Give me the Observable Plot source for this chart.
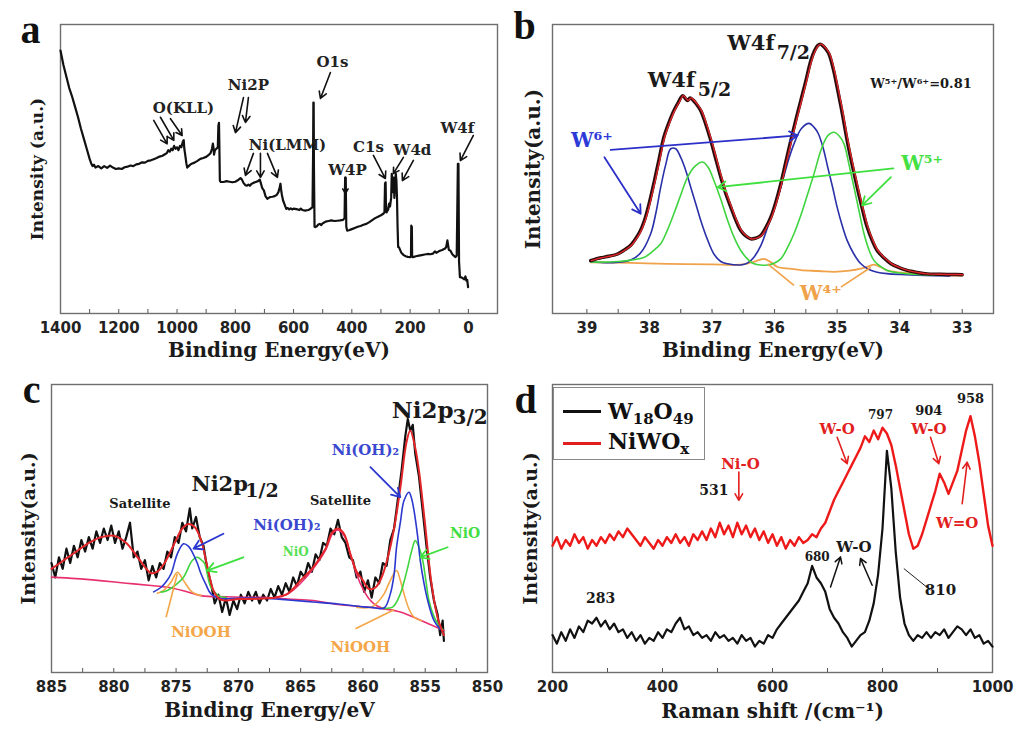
<!DOCTYPE html>
<html>
<head>
<meta charset="utf-8">
<script src="https://cdn.jsdelivr.net/npm/d3@7"></script>
<script src="https://cdn.jsdelivr.net/npm/@observablehq/plot@0.6"></script>
<style>
  body { margin: 0; background: #fff; }
  #fig { position: relative; width: 1016px; height: 733px; background: #fff; overflow: hidden; }
  #fig svg { position: absolute; }
  .legend { position: absolute; left: 553px; top: 387px; width: 150px; height: 71px; border: 1px solid #888; background: #fff;
            font-family: "DejaVu Serif"; font-weight: bold; font-size: 22px; color: #111; }
  .legend .sw { position: absolute; left: 9px; width: 38px; height: 3px; }
  .legend .lb { position: absolute; left: 54px; line-height: 1; }
  .legend sub { font-size: 15px; vertical-align: -5px; }
</style>
</head>
<body>
<div id="fig"></div>
<script>
// ---------- Panel a : XPS survey ----------
const surveyA = [[1400,91],[1390,86],[1380,82],[1370,78],[1360,75],[1350,71.5],[1340,68],[1330,64],[1320,60.5],[1310,57],[1300,53.5],[1295,52],[1290,51],[1285,51.5],[1280,50.5],[1270,51],[1260,50.2],[1250,51],[1240,50.4],[1230,51.2],[1220,50.5],[1210,50],[1200,50.2],[1190,50],[1180,50.6],[1170,50.8],[1160,51.2],[1150,51],[1140,51.6],[1130,51.8],[1120,52.3],[1110,52.2],[1100,52.8],[1090,53],[1080,53.4],[1070,53.8],[1060,54.3],[1050,54.6],[1040,55.2],[1035,55.5],[1030,56.5],[1025,56],[1020,57],[1015,56.5],[1010,58],[1005,57],[1000,57.5],[995,56.5],[990,58],[985,57.5],[980,59.5],[977,60],[975,57],[972,55],[968,52],[965,50.5],[960,51],[955,51.5],[950,51.8],[940,52.2],[930,52.8],[920,53.5],[910,53.8],[900,54.2],[890,55],[885,55.5],[880,57],[877,58.8],[875,57.5],[873,55],[870,56.5],[865,57],[860,57.5],[858,65],[856,66],[855,60],[853,46],[850,45.5],[840,45.5],[830,45.8],[820,45.6],[810,45.4],[800,45.6],[790,46.2],[782,46.8],[778,46.5],[772,45.2],[765,44.4],[760,44.2],[755,44.6],[750,44.2],[745,44.8],[738,45.2],[730,45.5],[722,45.8],[716,46.3],[712,45],[708,43.5],[702,42.6],[696,40.5],[690,39.7],[685,40],[680,40.3],[672,40.4],[665,40.6],[658,41],[652,42],[648,43.5],[645,44.9],[643,43],[640,41],[636,39.1],[630,37.5],[625,36.2],[620,36.5],[615,36],[610,36.4],[605,36],[600,36.3],[590,36.1],[580,35.8],[575,36.3],[570,35.8],[560,35.6],[550,35.8],[545,36],[540,36.4],[535,36.8],[533,55],[532,73],[531,73],[530,50],[528,30],[525,29.9],[520,30.2],[515,30.8],[510,31],[505,30.6],[500,31.2],[495,31.5],[490,31.8],[480,32],[470,32.2],[460,32],[450,32.1],[440,32.2],[430,32.4],[425,33],[423,47],[421,47],[419,30],[416,28.7],[410,28.8],[400,29.2],[390,29.6],[380,30],[370,30.3],[360,30.7],[350,31],[340,31.6],[330,32.3],[320,33],[310,33.5],[300,34],[292,34.5],[288,35],[286,45],[284,45.4],[283,38],[281,35],[278,35.5],[275,36],[272,38],[269,37],[265,40],[263,48.3],[261,46],[259,42],[256,47],[254,40],[252,45],[249,48.3],[247,46],[245,40],[243,30],[241,23],[238,22.9],[230,21],[222,20.2],[215,19.8],[208,19.6],[200,19.5],[197,19.8],[196,30.4],[194,30],[193,19.6],[190,19.5],[180,19.8],[170,20],[160,20.2],[150,20.4],[140,20.6],[130,20.5],[122,20.7],[115,21.5],[110,21],[100,21.6],[90,22],[80,22.5],[76,23],[72,25.3],[70,24],[67,22],[62,21.8],[55,20.5],[50,20],[44,19.5],[40,20],[36,51.8],[34,51.8],[32,18],[29,12.6],[24,12.5],[19,12.2],[14,11.8],[10,12.8],[7,11.4],[4,11.6],[1,9.1]];
const aLabels = [
  {t:"O(KLL)", x:978, y:70.9}, {t:"Ni2P", x:755, y:78.9}, {t:"Ni(LMM)", x:621, y:58.1},
  {t:"O1s", x:466.7, y:86.9}, {t:"W4P", x:415, y:49.5}, {t:"C1s", x:343, y:57.4},
  {t:"W4d", x:192, y:56.4}, {t:"W4f", x:38, y:64}
];
const aArrows = [[1080,66.8,1034,58.7],[1057,67.9,1011,59.9],[1022.6,67.4,982.4,61.6],[772,74.7,799.5,62.6],[755,74.7,765.2,66.1],[737.8,55.4,765.2,47.8],[713.7,55.4,713.7,47.1],[689.7,55.4,655.4,47.1],[473.5,83.4,507.8,74.4],[422,47.1,422,41.5],[326,54.7,284.8,46.7],[223,54,257.4,48.4],[188.7,53,226.5,46],[-17.2,61.6,27.4,52.9]];
const aTicks = [1400,1200,1000,800,600,400,200,0];
const aMinor = [1400,1300,1200,1100,1000,900,800,700,600,500,400,300,200,100,0];

// ---------- Panel b : W4f ----------
const bTotal = [[38.94,18.3],[38.85,18.9],[38.78,19.3],[38.65,19.8],[38.51,20.6],[38.4,22],[38.3,23.6],[38.24,25.3],[38.16,28],[38.08,32.2],[38.0,38.5],[37.92,46],[37.85,53],[37.77,61],[37.69,66],[37.61,70.2],[37.54,73],[37.47,75.4],[37.43,74.5],[37.39,73.7],[37.35,74.6],[37.31,74],[37.25,72.5],[37.18,70.2],[37.1,65.5],[37.02,59.9],[36.94,53.5],[36.86,47.2],[36.78,41.5],[36.7,36.8],[36.62,32.3],[36.54,28.7],[36.46,26.8],[36.38,25.8],[36.3,26.1],[36.22,27],[36.14,29.7],[36.06,33.3],[35.98,38.5],[35.9,44.9],[35.82,52.5],[35.74,59.9],[35.66,67],[35.58,73.7],[35.5,80.5],[35.42,87.5],[35.36,91],[35.31,92.7],[35.27,93.2],[35.23,92.7],[35.18,91.5],[35.13,89.8],[35.06,84.5],[35.0,78.3],[34.92,69.5],[34.84,59.9],[34.76,51.5],[34.68,43.7],[34.6,36.5],[34.52,29.9],[34.44,25.3],[34.36,21.8],[34.25,19.2],[34.14,17.2],[34.0,15.8],[33.88,14.9],[33.72,14.2],[33.56,13.7],[33.4,13.6],[33.24,13.5],[33.1,13.5],[33.0,13.4]];
const bW6 = [[38.94,17.9],[38.6,17.6],[38.3,18.5],[38.14,21],[37.98,27.6],[37.9,34.5],[37.82,43.7],[37.74,51.5],[37.66,57],[37.58,57],[37.5,54],[37.42,49.5],[37.34,43.7],[37.26,38],[37.18,32.2],[37.08,26],[36.97,20.6],[36.86,18],[36.75,17.2],[36.54,16.8],[36.43,17.5],[36.33,19.5],[36.22,23.5],[36.11,29.9],[36.0,36.8],[35.9,43.7],[35.8,51.5],[35.69,58.7],[35.57,64],[35.45,65.8],[35.37,64.5],[35.3,62.2],[35.22,57],[35.15,50.6],[35.07,43.5],[35.0,36.8],[34.92,30.5],[34.84,25.3],[34.73,20.5],[34.62,17.2],[34.5,15.3],[34.36,14.3],[34.2,13.8],[33.98,13.5],[33.6,13.2],[33.2,13.0]];
const bW5 = [[38.94,17.8],[38.5,18],[38.08,19.5],[37.95,21.5],[37.82,24.1],[37.72,28.5],[37.61,34.5],[37.5,41],[37.39,47.2],[37.27,51],[37.15,52.4],[37.06,50.5],[36.97,46],[36.86,39.5],[36.75,32.2],[36.65,26.5],[36.54,21.8],[36.43,18.8],[36.33,17.2],[36.11,16.8],[36.0,17.5],[35.9,18.9],[35.8,22.5],[35.69,27.6],[35.58,34],[35.47,41.4],[35.36,49],[35.26,56.4],[35.15,61.5],[35.05,62.7],[34.97,61.5],[34.89,58.7],[34.81,51.5],[34.73,43.7],[34.65,35.5],[34.57,27.6],[34.49,22],[34.41,18.3],[34.3,16.2],[34.2,14.9],[34.0,14],[33.72,13.5],[33.3,13.2]];
const bW4 = [[38.94,17.7],[38.3,17.5],[37.71,17.2],[37.0,17.0],[36.65,16.8],[36.45,17.2],[36.33,17.9],[36.17,18.9],[36.05,17.6],[35.95,16.1],[35.75,15.5],[35.58,15.0],[35.3,14.7],[35.05,14.4],[34.8,14.8],[34.62,15.5],[34.5,16.3],[34.41,16.9],[34.3,16.0],[34.2,14.9],[34.0,14.2],[33.72,13.8],[33.4,13.4],[33.0,13.1]];
const bLabels = [{t:"W4f", x:36.38, y:93.4, s:21},{t:"7/2", x:35.70, y:90, s:19},{t:"W4f", x:37.65, y:80.6, s:21},{t:"5/2", x:36.96, y:77.2, s:19},{t:"W⁵⁺/W⁶⁺=0.81", x:33.66, y:79.6, s:13}];
const bIonLabels = [{t:"W⁶⁺", x:38.92, y:59.9, c:"#2c3ad8"},{t:"W⁵⁺", x:33.64, y:51.8, c:"#44e044"},{t:"W⁴⁺", x:35.26, y:6.9, c:"#f0a24a"}];
const bArrowsBlue = [[38.62,56.6,35.63,61.6],[38.72,54.1,38.14,34.5]];
const bArrowsGreen = [[34.10,50.2,36.91,43.7],[34.14,47.2,34.60,37.4]];
const bArrowsOrange = [[35.69,9.7,36.11,17.2],[34.94,9.1,34.46,16]];
const bTicks = [39,38,37,36,35,34,33];
const bMinor = [39,38.5,38,37.5,37,36.5,36,35.5,35,34.5,34,33.5,33];

// ---------- Panel c : Ni2p ----------
const cData = [[885.0,38],[884.7,33],[884.4,40],[884.1,36],[883.8,43],[883.5,38],[883.2,44],[882.9,40],[882.6,46],[882.3,42],[882.0,47],[881.7,43],[881.4,49],[881.1,45],[880.8,50],[880.5,46],[880.2,51],[879.9,45],[879.6,49],[879.3,43],[879.0,47],[878.7,52],[878.4,40],[878.1,42],[877.8,36],[877.5,39],[877.2,32],[876.9,37],[876.6,33],[876.3,38],[876.0,36],[875.7,42],[875.4,40],[875.1,47],[874.8,45],[874.5,52],[874.2,49],[873.9,57],[873.7,50],[873.4,54],[873.1,47],[872.8,44],[872.5,36],[872.2,31],[871.9,24],[871.6,27],[871.3,21],[871.0,26],[870.7,20],[870.4,25],[870.1,22],[869.8,27],[869.5,24],[869.2,28],[868.9,25],[868.6,28],[868.3,24],[868.0,27],[867.7,25],[867.4,29],[867.1,26],[866.8,30],[866.5,27],[866.2,31],[865.9,28],[865.6,33],[865.3,30],[865.0,35],[864.7,33],[864.4,38],[864.1,35],[863.8,41],[863.5,39],[863.2,45],[862.9,44],[862.6,50],[862.3,48],[862.0,53],[861.7,47],[861.4,45],[861.1,40],[860.8,39],[860.5,33],[860.2,35],[859.9,28],[859.6,32],[859.3,26],[859.0,33],[858.7,31],[858.4,38],[858.1,37],[857.8,46],[857.5,50],[857.2,60],[856.9,70],[856.6,82],[856.4,88],[856.2,84],[856.0,86],[855.8,76],[855.5,68],[855.2,56],[854.9,44],[854.6,33],[854.3,25],[854.0,20],[853.8,13],[853.6,18],[853.5,11]];
const cFit = [[885,36],[884,39],[883,42],[882,45],[881,47],[880,47.5],[879,45],[878,39.5],[877,34.5],[876.5,35],[876,37.5],[875.5,41.5],[875,46],[874.5,50],[874,51.6],[873.5,50.5],[873,46],[872.5,37],[872,28.5],[871.5,25.5],[871,25],[870,25.5],[869,25.5],[868,25.7],[867,26],[866,27.5],[865,32],[864,36.5],[863,43],[862.5,48.5],[862,50],[861.5,48],[861,41],[860.5,35],[860,32],[859.5,29],[859,29.5],[858.5,33],[858,40],[857.5,50],[857,64],[856.5,80],[856.2,84],[855.8,78],[855.5,70],[855,51],[854.5,31],[854,19],[853.5,13]];
const cBackground = [[885,33.1],[883,32.6],[881.1,31.9],[879,31],[877,30.2],[875.7,29.6],[874.5,28.5],[873,26.7],[871,26.3],[869,26.1],[867.7,26],[866,25.5],[864,25],[862.3,23.8],[860,22.8],[858.3,22.1],[857,21],[855.6,18.6],[854.5,16.5],[853.5,14.6]];
const cSatellite = [[867,26.2],[866,27.3],[865,31],[864,36],[863,42.5],[862.4,48.5],[862,49.5],[861.5,47.5],[861,41],[860.5,34],[860,29],[859.5,25.5],[859,23.5],[858.3,22.1]];
const cNiOH2 = [[876.8,28],[876.2,29.6],[875.8,31.5],[875.4,34.3],[874.9,41.2],[874.4,44.7],[874.0,43.8],[873.7,41.8],[873.3,38],[873.0,34.3],[872.6,30.5],[872.2,27.3],[871.4,25.7],[870,25.8],[868,25.8],[866,25.2],[864,24.5],[862,23.8],[860,22.8],[859.3,22.6],[858.3,22.4],[857.8,27.3],[857.5,34],[857.3,43.5],[857,52],[856.7,59.7],[856.3,62.6],[856.1,60.5],[855.9,56.3],[855.6,47],[855.4,38.9],[855.1,31],[854.8,25],[854.3,18.1],[853.8,15]];
const cNiO12 = [[876.2,27.9],[875.7,28.5],[875.0,30.5],[874.4,33.1],[873.7,38.9],[873.3,40],[872.9,38.8],[872.7,37.7],[872.2,29.6],[871.6,26.7],[871,26]];
const cNiO32 = [[858.5,22.3],[857.6,22.8],[857.0,27.3],[856.7,31.5],[856.4,36.6],[856.1,42],[855.8,45.8],[855.5,43.5],[855.2,38.9],[854.95,32],[854.7,25],[854.35,20],[854.0,17],[853.6,15]];
const cNiOOH12 = [[876.5,27.5],[876.0,28.5],[875.4,31.4],[874.9,34.8],[874.4,31.9],[873.7,27.9],[873.0,26.7]];
const cNiOOH32 = [[860.5,22.6],[859.3,22.7],[858.8,24.5],[858.3,27.3],[857.8,32],[857.3,35.4],[857.0,32],[856.7,27.3],[856.3,22],[855.9,19.2],[855.3,18]];
const cBigLabels = [{t:"Ni2p", x:855.2, y:91, s:23},{t:"3/2", x:851.4, y:88.6, s:20},{t:"Ni2p", x:871.5, y:65.5, s:21},{t:"1/2", x:868.1, y:63.2, s:19}];
const cSmallLabels = [{t:"Satellite", x:877.9, y:58.6},{t:"Satellite", x:861.8, y:59.7}];
const cColorLabels = [{t:"Ni(OH)₂", x:859.8, y:77.1, c:"#3a48d0", s:15},{t:"Ni(OH)₂", x:866.1, y:51, c:"#3a48d0", s:15},{t:"NiO", x:865.4, y:41.8, c:"#55e055", s:12},{t:"NiO", x:851.8, y:48.2, c:"#44dd44", s:14},{t:"NiOOH", x:873, y:14, c:"#f4a648", s:15},{t:"NiOOH", x:860.2, y:8.8, c:"#f4a648", s:15}];
const cArrowsBlue = [[859.4,71.3,857.0,60.9],[871.2,48.2,873.6,43]];
const cArrowsGreen = [[869.6,40,872.5,35.4],[853.2,43.5,855.4,40]];
const cLinesOrange = [[875.8,19.2,874.9,34.3],[860.6,15.2,857.5,21.8]];
const cTicks = [885,880,875,870,865,860,855,850];
const cMinor = [885,882.5,880,877.5,875,872.5,870,867.5,865,862.5,860,857.5,855,852.5,850];

// ---------- Panel d : Raman ----------
const dNiWOx = [[200,44],[208,47],[216,43],[224,46],[232,44],[240,48],[248,45],[256,47],[264,43],[272,46],[280,44],[288,47],[296,45],[304,48],[312,46],[320,49],[328,47],[336,50],[344,48],[352,46],[360,44],[368,47],[376,45],[384,43],[392,46],[400,44],[408,47],[416,45],[424,48],[432,45],[440,47],[448,44],[456,48],[464,46],[472,49],[480,46],[488,50],[496,47],[504,52],[512,48],[520,51],[528,47],[536,52],[544,48],[552,51],[560,47],[568,50],[576,46],[584,49],[592,45],[600,48],[608,44],[616,47],[624,43],[632,46],[640,44],[648,47],[656,45],[664,46],[672,48],[680,47],[688,50],[696,52],[704,56],[712,60],[720,63],[728,66],[736,69],[744,72],[752,75],[760,78],[768,82],[776,80],[784,84],[792,81],[800,85],[808,83],[816,79],[824,72],[832,64],[840,56],[848,48],[856,43],[864,44],[872,48],[880,53],[888,58],[896,63],[904,69],[912,66],[920,62],[928,66],[936,70],[944,77],[952,84],[960,89],[968,82],[976,73],[984,62],[992,51],[1000,44]];
const dW18O49 = [[200,13],[208,10],[216,14],[224,11],[232,15],[240,12],[248,16],[256,14],[264,18],[272,17],[280,19],[288,16],[296,18],[304,15],[312,17],[320,14],[328,15],[336,12],[344,14],[352,11],[360,13],[368,10],[376,12],[384,11],[392,14],[400,12],[408,15],[416,14],[424,17],[432,19],[440,15],[448,16],[456,13],[464,14],[472,12],[480,13],[488,11],[496,14],[504,12],[512,13],[520,11],[528,12],[536,10],[544,13],[552,11],[560,12],[568,9],[576,11],[584,10],[592,13],[600,12],[608,15],[616,17],[624,19],[632,21],[640,23],[648,25],[656,28],[664,31],[672,37],[680,33],[688,31],[696,28],[704,22],[712,19],[720,17],[728,14],[736,12],[744,9],[752,11],[760,13],[768,14],[776,18],[784,24],[792,34],[800,50],[808,77],[816,64],[824,42],[832,26],[840,17],[848,13],[856,11],[864,13],[872,12],[880,14],[888,12],[896,14],[904,13],[912,15],[920,12],[928,14],[936,16],[944,15],[952,13],[960,15],[968,12],[976,13],[984,10],[992,11],[1000,9]];
const dBlackLabels = [{t:"797", x:796.4, y:89.3, s:12},{t:"904", x:884.2, y:91, s:13},{t:"958", x:960, y:95, s:13},{t:"531", x:493.3, y:63.3, s:14},{t:"283", x:287.3, y:25.7, s:14},{t:"680", x:681.2, y:40.1, s:12},{t:"810", x:905.5, y:28.6, s:15},{t:"W-O", x:747.9, y:43.6, s:15}];
const dRedLabels = [{t:"W-O", x:717.6, y:84.6},{t:"W-O", x:884.2, y:84.6},{t:"W=O", x:935.8, y:51.7},{t:"Ni-O", x:541.8, y:72.5}];
const dArrowsRed = [[717.6,81.7,735.8,72.5],[887.3,81.7,902.4,72.5],[944.9,58.6,954,73],[538.8,69.6,538.8,59.8]];
const dArrowsBlack = [[705.5,29.7,723.6,40.1],[781.2,30.3,760,39.6]];
const dLeader = [[887.3,28.6,838.8,36.1]];
const dTicks = [200,400,600,800,1000];
const dMinor = [200,300,400,500,600,700,800,900,1000];

// ---------- helpers ----------
const SERIF = "DejaVu Serif";
const X = d => d[0], Y = d => d[1];
const seg = {x1: d => d[0], y1: d => d[1], x2: d => d[2], y2: d => d[3]};

function frameAndAxes({ticks, minor, xLabel, xLabelDy, yLabel, yLabelDx, yLabelSize, letter, letterDx, letterDy}) {
  return [
    Plot.axisX({ticks, tickSize: 0, tickPadding: 9, tickFormat: d => String(d), label: null}),
    Plot.axisX({ticks: minor, tickSize: -4, tickFormat: () => "", label: null, stroke: "#555"}),
    Plot.frame({stroke: "#6e6e6e", strokeWidth: 1.4}),
    Plot.text([xLabel], {text: d => d, frameAnchor: "bottom", textAnchor: "middle", dy: xLabelDy, fontFamily: SERIF, fontWeight: "bold", fontSize: 20, fill: "#1a1a1a"}),
    Plot.text([yLabel], {text: d => d, frameAnchor: "left", textAnchor: "middle", rotate: -90, dx: yLabelDx, fontFamily: SERIF, fontWeight: "bold", fontSize: yLabelSize, fill: "#1a1a1a"}),
    Plot.text([letter], {text: d => d, frameAnchor: "top-left", textAnchor: "middle", dx: letterDx, dy: letterDy, lineAnchor: "bottom", fontFamily: "Liberation Serif", fontWeight: "bold", fontSize: 40, fill: "#111"})
  ];
}

function place(svg, left, top) {
  svg.style.left = left + "px";
  svg.style.top = top + "px";
  document.getElementById("fig").appendChild(svg);
}

const baseStyle = {background: "transparent", overflow: "visible", fontFamily: "DejaVu Sans", fontSize: "15px", fontWeight: "bold", color: "#222"};

// ---------- a ----------
place(Plot.plot({
  width: 508, height: 366, marginLeft: 60, marginRight: 11, marginTop: 24, marginBottom: 53,
  style: baseStyle,
  x: {domain: [1400, -100]}, y: {domain: [0, 100], axis: null},
  marks: [
    ...frameAndAxes({ticks: aTicks, minor: aMinor, xLabel: "Binding Energy(eV)", xLabelDy: 43, yLabel: "Intensity (a.u.)", yLabelDx: -23, yLabelSize: 17, letter: "a", letterDx: -30, letterDy: 18}),
    Plot.line(surveyA, {x: X, y: Y, stroke: "#111", strokeWidth: 2.2}),
    Plot.arrow(aArrows, {...seg, stroke: "#111", strokeWidth: 1.6, headLength: 7}),
    Plot.text(aLabels, {x: "x", y: "y", text: "t", fontFamily: SERIF, fontWeight: "bold", fontSize: 15, fill: "#222"})
  ]
}), 0, 0);

// ---------- b ----------
place(Plot.plot({
  width: 508, height: 366, marginLeft: 44, marginRight: 23, marginTop: 24, marginBottom: 53,
  style: baseStyle,
  x: {domain: [39.55, 32.5]}, y: {domain: [0, 100], axis: null},
  marks: [
    ...frameAndAxes({ticks: bTicks, minor: bMinor, xLabel: "Binding Energy(eV)", xLabelDy: 43, yLabel: "Intensity(a.u.)", yLabelDx: -19, yLabelSize: 20, letter: "b", letterDx: -28, letterDy: 14}),
    Plot.line(bW4, {x: X, y: Y, stroke: "#f0a24a", strokeWidth: 1.8, curve: "catmull-rom"}),
    Plot.line(bW6, {x: X, y: Y, stroke: "#2a30a8", strokeWidth: 1.6, curve: "catmull-rom"}),
    Plot.line(bW5, {x: X, y: Y, stroke: "#3fd43f", strokeWidth: 1.6, curve: "catmull-rom"}),
    Plot.line(bTotal, {x: X, y: Y, stroke: "#2a0c0c", strokeWidth: 3.4, curve: "catmull-rom"}),
    Plot.line(bTotal, {x: X, y: Y, stroke: "#e0262a", strokeWidth: 1.4, curve: "catmull-rom", dx: 0.8}),
    Plot.arrow(bArrowsBlue, {...seg, stroke: "#2c30c8", strokeWidth: 1.8, headLength: 8}),
    Plot.arrow(bArrowsGreen, {...seg, stroke: "#3ee03e", strokeWidth: 1.8, headLength: 8}),
    Plot.link(bArrowsOrange, {...seg, stroke: "#f0a24a", strokeWidth: 1.6}),
    Plot.text(bLabels, {x: "x", y: "y", text: "t", fontSize: d => d.s, fontFamily: SERIF, fontWeight: "bold", fill: "#1a1a1a"}),
    Plot.text(bIonLabels, {x: "x", y: "y", text: "t", fill: d => d.c, fontFamily: SERIF, fontWeight: "bold", fontSize: 20})
  ]
}), 508, 0);

// ---------- c ----------
place(Plot.plot({
  width: 508, height: 367, marginLeft: 51, marginRight: 21, marginTop: 18, marginBottom: 61,
  style: baseStyle,
  x: {domain: [885, 850]}, y: {domain: [0, 100], axis: null},
  marks: [
    ...frameAndAxes({ticks: cTicks, minor: cMinor, xLabel: "Binding Energy/eV", xLabelDy: 44, yLabel: "Intensity(a.u.)", yLabelDx: -23, yLabelSize: 19, letter: "c", letterDx: -20, letterDy: 18}),
    Plot.line(cData, {x: X, y: Y, stroke: "#111", strokeWidth: 2.2}),
    Plot.line(cBackground, {x: X, y: Y, stroke: "#e83070", strokeWidth: 1.6, curve: "catmull-rom"}),
    Plot.line(cSatellite, {x: X, y: Y, stroke: "#e83070", strokeWidth: 1.6, curve: "catmull-rom"}),
    Plot.line(cNiOOH12, {x: X, y: Y, stroke: "#f4a648", strokeWidth: 1.6, curve: "catmull-rom"}),
    Plot.line(cNiOOH32, {x: X, y: Y, stroke: "#f4a648", strokeWidth: 1.6, curve: "catmull-rom"}),
    Plot.line(cNiO12, {x: X, y: Y, stroke: "#3fd43f", strokeWidth: 1.6, curve: "catmull-rom"}),
    Plot.line(cNiO32, {x: X, y: Y, stroke: "#3fd43f", strokeWidth: 1.6, curve: "catmull-rom"}),
    Plot.line(cNiOH2, {x: X, y: Y, stroke: "#2a38d0", strokeWidth: 1.6, curve: "catmull-rom"}),
    Plot.line(cFit, {x: X, y: Y, stroke: "#e2262a", strokeWidth: 2, curve: "catmull-rom"}),
    Plot.arrow(cArrowsBlue, {...seg, stroke: "#2a38d0", strokeWidth: 1.8, headLength: 8}),
    Plot.arrow(cArrowsGreen, {...seg, stroke: "#3ee03e", strokeWidth: 1.8, headLength: 8}),
    Plot.link(cLinesOrange, {...seg, stroke: "#f4a648", strokeWidth: 1.6}),
    Plot.text(cBigLabels, {x: "x", y: "y", text: "t", fontSize: d => d.s, fontFamily: SERIF, fontWeight: "bold", fill: "#1a1a1a"}),
    Plot.text(cSmallLabels, {x: "x", y: "y", text: "t", fontSize: 13, fontFamily: SERIF, fontWeight: "bold", fill: "#1a1a1a"}),
    Plot.text(cColorLabels, {x: "x", y: "y", text: "t", fill: d => d.c, fontSize: d => d.s, fontFamily: SERIF, fontWeight: "bold"})
  ]
}), 0, 366);

// ---------- d ----------
place(Plot.plot({
  width: 508, height: 367, marginLeft: 44, marginRight: 24, marginTop: 18, marginBottom: 61,
  style: baseStyle,
  x: {domain: [200, 1000]}, y: {domain: [0, 100], axis: null},
  marks: [
    ...frameAndAxes({ticks: dTicks, minor: dMinor, xLabel: "Raman shift /(cm⁻¹)", xLabelDy: 45, yLabel: "Intensity(a.u.)", yLabelDx: -22, yLabelSize: 19, letter: "d", letterDx: -27, letterDy: 28}),
    Plot.line(dW18O49, {x: X, y: Y, stroke: "#111", strokeWidth: 2.2}),
    Plot.line(dNiWOx, {x: X, y: Y, stroke: "#ee1a1a", strokeWidth: 2.4}),
    Plot.arrow(dArrowsRed, {...seg, stroke: "#e21e1e", strokeWidth: 1.6, headLength: 7}),
    Plot.arrow(dArrowsBlack, {...seg, stroke: "#111", strokeWidth: 1.5, headLength: 7}),
    Plot.link(dLeader, {...seg, stroke: "#222", strokeWidth: 1}),
    Plot.text(dBlackLabels, {x: "x", y: "y", text: "t", fontSize: d => d.s, fontFamily: SERIF, fontWeight: "bold", fill: "#1a1a1a"}),
    Plot.text(dRedLabels, {x: "x", y: "y", text: "t", fontSize: 15, fontFamily: SERIF, fontWeight: "bold", fill: "#e21e1e"})
  ]
}), 508, 366);

// legend for d
const legend = document.createElement("div");
legend.className = "legend";
legend.innerHTML =
  '<div class="sw" style="top:22px;background:#111"></div><div class="lb" style="top:12px">W<sub>18</sub>O<sub>49</sub></div>' +
  '<div class="sw" style="top:54px;background:#e21e1e"></div><div class="lb" style="top:42px">NiWO<sub>x</sub></div>';
document.getElementById("fig").appendChild(legend);
</script>
</body>
</html>
